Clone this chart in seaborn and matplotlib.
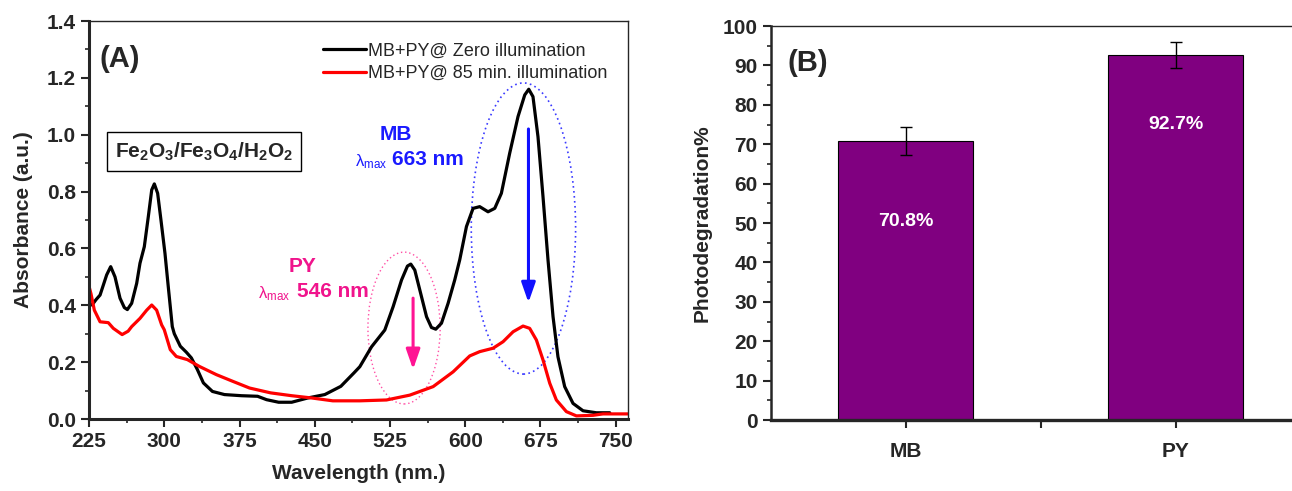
import matplotlib
matplotlib.use("Agg")
import matplotlib.pyplot as plt
from matplotlib.patches import Ellipse
from matplotlib.ticker import MultipleLocator, FormatStrFormatter
import seaborn as sns
import pandas as pd

# ---------------- data ----------------
wl_zero = [225, 228, 232, 236, 242.6, 246.6, 250.9, 255.9, 260.2, 263.2, 267.5, 272.5,
           275.8, 280.1, 284.1, 287.5, 290.1, 293.4, 296.7, 300.7, 304, 308, 310, 316,
           322, 327, 333, 339, 348, 360, 377, 393, 402, 414, 427, 443, 460, 476, 489,
           494.9, 506.6, 519.8, 528.1, 536.5, 542.4, 545.7, 549.7, 554.7, 561.4, 566.3,
           570.6, 576.3, 582.9, 589.5, 594.5, 601.2, 607.8, 614.4, 622.7, 629.4, 636,
           644.3, 652.6, 659.3, 663.3, 667.5, 672.5, 677.5, 682.5, 687.5, 692.4, 699.1,
           707.4, 717.4, 730.7, 744]
abs_zero = [0.41, 0.401, 0.42, 0.436, 0.507, 0.536, 0.50, 0.425, 0.392, 0.385, 0.407,
            0.477, 0.548, 0.606, 0.712, 0.806, 0.827, 0.794, 0.70, 0.583, 0.465, 0.325,
            0.30, 0.256, 0.235, 0.215, 0.174, 0.127, 0.097, 0.086, 0.082, 0.080, 0.068,
            0.059, 0.059, 0.074, 0.086, 0.115, 0.162, 0.184, 0.254, 0.313, 0.395, 0.489,
            0.538, 0.545, 0.524, 0.454, 0.36, 0.322, 0.316, 0.337, 0.407, 0.489, 0.56,
            0.677, 0.741, 0.747, 0.729, 0.741, 0.794, 0.935, 1.064, 1.14, 1.16, 1.134,
            0.993, 0.782, 0.559, 0.36, 0.219, 0.114, 0.055, 0.029, 0.022, 0.022]

wl_85 = [225, 227, 230.3, 236, 244.2, 249.2, 258, 264, 267.5, 275.8, 282.5, 287.5,
         292.4, 297.4, 300, 306, 312, 323, 335, 352, 368, 385, 406, 427, 447, 468,
         494.9, 521.5, 544.7, 568, 587.9, 604.5, 614.4, 627.7, 637.7, 647.7, 657.6,
         664.2, 670.9, 677.5, 684.2, 690.8, 700.8, 710.8, 727.3, 737.3, 762]
abs_85 = [0.467, 0.44, 0.383, 0.342, 0.339, 0.319, 0.297, 0.309, 0.325, 0.354, 0.383,
          0.401, 0.383, 0.331, 0.314, 0.244, 0.22, 0.209, 0.185, 0.156, 0.133, 0.109,
          0.092, 0.082, 0.074, 0.064, 0.064, 0.067, 0.084, 0.114, 0.166, 0.222, 0.237,
          0.249, 0.272, 0.307, 0.327, 0.319, 0.278, 0.208, 0.126, 0.067, 0.026, 0.011,
          0.013, 0.018, 0.018]

series_labels = ["MB+PY@ Zero illumination", "MB+PY@ 85 min. illumination"]

dyes = ["MB", "PY"]
degradation = [70.8, 92.7]
degradation_err = [3.5, 3.3]
bar_labels = ["70.8%", "92.7%"]

# ---------------- style ----------------
sns.set_theme(style="ticks")
FONT = ["Liberation Sans", "DejaVu Sans"]
plt.rcParams["font.family"] = FONT
plt.rcParams["mathtext.default"] = "regular"

fig = plt.figure(figsize=(12.92, 4.91), dpi=100)

# ---------------- panel A ----------------
axA = fig.add_axes([0.0689, 0.1466, 0.417, 0.8106])
dfz = pd.DataFrame({"wl": wl_zero, "abs": abs_zero})
df85 = pd.DataFrame({"wl": wl_85, "abs": abs_85})
sns.lineplot(data=dfz, x="wl", y="abs", ax=axA, color="black", lw=2.3,
             sort=False, label=series_labels[0], solid_joinstyle="round")
sns.lineplot(data=df85, x="wl", y="abs", ax=axA, color="#ff0000", lw=2.3,
             sort=False, label=series_labels[1], solid_joinstyle="round")
axA.set_xlim(225, 762)
axA.set_ylim(0, 1.4)
axA.xaxis.set_major_locator(MultipleLocator(75))
axA.xaxis.set_minor_locator(MultipleLocator(37.5))
axA.yaxis.set_major_locator(MultipleLocator(0.2))
axA.yaxis.set_minor_locator(MultipleLocator(0.1))
axA.yaxis.set_major_formatter(FormatStrFormatter("%.1f"))
axA.tick_params(which="major", direction="out", length=6, width=1.5, labelsize=15)
axA.tick_params(which="minor", direction="out", length=3, width=1.2)
for lab in axA.get_xticklabels() + axA.get_yticklabels():
    lab.set_fontweight("bold")
for s in ["left", "bottom"]:
    axA.spines[s].set_linewidth(2.2)
for s in ["top", "right"]:
    axA.spines[s].set_linewidth(1.0)
axA.set_xlabel("Wavelength (nm.)", fontsize=15, fontweight="bold", labelpad=9)
axA.set_ylabel("Absorbance (a.u.)", fontsize=15, fontweight="bold", labelpad=10)
axA.legend(loc="upper right", frameon=False, fontsize=13,
           handlelength=2.4, handletextpad=0.1, borderaxespad=0.3,
           labelspacing=0.3, bbox_to_anchor=(0.985, 0.978))

axA.text(0.02, 0.905, "(A)", transform=axA.transAxes, fontsize=21,
         fontweight="bold", ha="left", va="center")
axA.text(0.048, 0.671, r"$\mathregular{Fe_2O_3/Fe_3O_4/H_2O_2}$", transform=axA.transAxes,
         fontsize=15, fontweight="bold", ha="left", va="center",
         bbox=dict(boxstyle="square,pad=0.4", fc="white", ec="black", lw=1.0))

blue = "#1a1aff"
pink = "#f0148c"
fx = lambda px: 225 + (px - 89) / 1.004
fy = lambda py: (419 - py) * 1.4 / 398
axA.text(fx(396), fy(134), "MB", color=blue, fontsize=15, fontweight="bold",
         ha="center", va="center")
axA.text(fx(355), fy(162), r"$\mathregular{\lambda_{max}}$", color=blue, fontsize=12,
         ha="left", va="center")
axA.text(fx(392), fy(159), "663 nm", color=blue, fontsize=15, fontweight="bold",
         ha="left", va="center")
axA.text(fx(303), fy(266), "PY", color=pink, fontsize=15, fontweight="bold",
         ha="center", va="center")
axA.text(fx(258), fy(294), r"$\mathregular{\lambda_{max}}$", color=pink, fontsize=12,
         ha="left", va="center")
axA.text(fx(297), fy(291), "546 nm", color=pink, fontsize=15, fontweight="bold",
         ha="left", va="center")

axA.add_patch(Ellipse((539, 0.32), 72, 0.534, fill=False, ec="#ff4fa5",
                      ls=(0, (1, 2)), lw=1.0))
axA.add_patch(Ellipse((658, 0.67), 104, 1.024, fill=False, ec="#3a3aff",
                      ls=(0, (1, 2)), lw=1.2))
axA.annotate("", xy=(663, 0.40), xytext=(663, 1.03),
             arrowprops=dict(arrowstyle="-|>,head_width=0.35,head_length=1.0",
                             color="#1010ff", lw=2.2))
axA.annotate("", xy=(548, 0.165), xytext=(548, 0.435),
             arrowprops=dict(arrowstyle="-|>,head_width=0.35,head_length=1.0",
                             color="#ff1493", lw=2.2))

# ---------------- panel B ----------------
axB = fig.add_axes([0.5967, 0.1446, 0.418, 0.8024])
dfb = pd.DataFrame({"dye": dyes, "deg": degradation})
sns.barplot(data=dfb, x="dye", y="deg", ax=axB, color="#800080", width=0.5,
            edgecolor="black", linewidth=0.8, saturation=1, errorbar=None)
axB.errorbar(x=list(range(len(dyes))), y=degradation, yerr=degradation_err,
             fmt="none", ecolor="black", elinewidth=1.0, capsize=4, capthick=1.0)
for i, (v, t) in enumerate(zip([50.3, 74.9], bar_labels)):
    axB.text(i, v, t, color="white", fontsize=14, fontweight="bold",
             ha="center", va="center")
axB.set_xlim(-0.5, 1.5)
axB.set_ylim(0, 100)
axB.yaxis.set_major_locator(MultipleLocator(10))
axB.yaxis.set_minor_locator(MultipleLocator(5))
axB.set_xticks([0, 0.5, 1], ["MB", "", "PY"])
axB.tick_params(which="major", direction="out", length=6, width=1.5, labelsize=15)
axB.tick_params(which="minor", direction="out", length=3, width=1.2)
axB.tick_params(axis="x", pad=10)
for lab in axB.get_xticklabels() + axB.get_yticklabels():
    lab.set_fontweight("bold")
axB.spines["left"].set_linewidth(1.8)
axB.spines["bottom"].set_linewidth(2.4)
axB.spines["top"].set_linewidth(1.0)
axB.spines["right"].set_linewidth(1.0)
axB.set_xlabel("")
axB.set_ylabel("Photodegradation%", fontsize=15, fontweight="bold", labelpad=8)
axB.text(0.03, 0.905, "(B)", transform=axB.transAxes, fontsize=21,
         fontweight="bold", ha="left", va="center")

fig.savefig("out.png", dpi=100)
